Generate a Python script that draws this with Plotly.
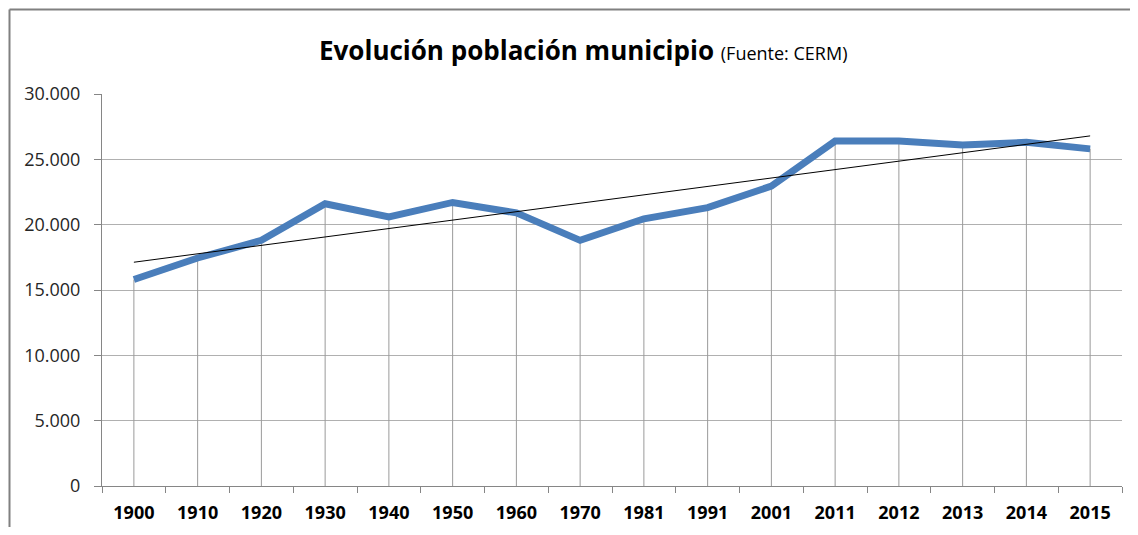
import numpy as np
import plotly.graph_objects as go

years = ["1900", "1910", "1920", "1930", "1940", "1950", "1960", "1970",
         "1981", "1991", "2001", "2011", "2012", "2013", "2014", "2015"]
population = [15800, 17450, 18800, 21600, 20600, 21700, 20900, 18800,
              20450, 21300, 22950, 26400, 26400, 26100, 26300, 25800]
y_ticks = [0, 5000, 10000, 15000, 20000, 25000, 30000]
y_tick_labels = ["0", "5.000", "10.000", "15.000", "20.000", "25.000", "30.000"]

# linear trend over category index
idx = np.arange(len(years))
slope, intercept = np.polyfit(idx, population, 1)
trend = slope * idx + intercept

# drop lines from each point down to the axis
drop_x, drop_y = [], []
for yr, v in zip(years, population):
    drop_x += [yr, yr, None]
    drop_y += [0, v, None]

fig = go.Figure()
fig.add_trace(go.Scatter(x=drop_x, y=drop_y, mode="lines",
                         line=dict(color="#9a9a9a", width=1),
                         hoverinfo="skip", showlegend=False))
fig.add_trace(go.Scatter(x=years, y=population, mode="lines",
                         line=dict(color="#4A7EBB", width=7),
                         showlegend=False))
fig.add_trace(go.Scatter(x=years, y=trend, mode="lines",
                         line=dict(color="#000000", width=1),
                         showlegend=False))

OFF = 8  # page body margin
W, H = 1138 - 2 * OFF, 535 - 2 * OFF
ml, mt = 102 - OFF, 94 - OFF
pw, ph = 1020, 392
mr, mb = W - ml - pw, H - mt - ph

FONT = "Open Sans, Liberation Sans, sans-serif"

fig.update_layout(
    width=W, height=H,
    margin=dict(l=ml, r=mr, t=mt, b=mb, autoexpand=False),
    paper_bgcolor="white", plot_bgcolor="white",
    font=dict(family=FONT, color="#000000"),
    xaxis=dict(type="category", tickson="boundaries", ticks="outside",
               ticklen=6, tickcolor="#868686", showgrid=False,
               showline=True, linecolor="#868686", linewidth=1,
               tickfont=dict(size=18, color="#000000"),
               tickprefix="<b>", ticksuffix="</b>",
               ticklabelstandoff=10, automargin=False,
               range=[-0.5, len(years) - 0.5], fixedrange=True),
    yaxis=dict(range=[0, 30000], tickvals=y_ticks, ticktext=y_tick_labels,
               ticks="outside", ticklen=7, tickcolor="#868686",
               showgrid=True, gridcolor="#b0b0b0", gridwidth=1,
               showline=True, linecolor="#868686", linewidth=1,
               zeroline=False, ticklabelstandoff=10, automargin=False,
               tickfont=dict(size=18, color="#262626"), fixedrange=True),
)

# title
fig.add_annotation(
    x=(583 - 102) / pw, y=1 + (94 - 50) / ph, xref="paper", yref="paper",
    text="<b>Evolución población municipio</b> <span style='font-size:18px'>(Fuente: CERM)</span>",
    showarrow=False, font=dict(size=26, color="#000000"),
    xanchor="center", yanchor="middle")

# outer chart border: top and left edges only (page coords; figure starts at OFF)
bx0 = (OFF + 1.5 - 102) / pw
by1 = 1 + (94 - OFF - 1.5) / ph
fig.add_shape(type="line", xref="paper", yref="paper",
              x0=bx0, x1=(OFF + W - 102) / pw, y0=by1, y1=by1,
              line=dict(color="#808080", width=2), layer="below")
fig.add_shape(type="line", xref="paper", yref="paper",
              x0=bx0, x1=bx0, y0=by1, y1=-(OFF + H - 486) / ph,
              line=dict(color="#808080", width=2), layer="below")

fig.write_html("out.html")
